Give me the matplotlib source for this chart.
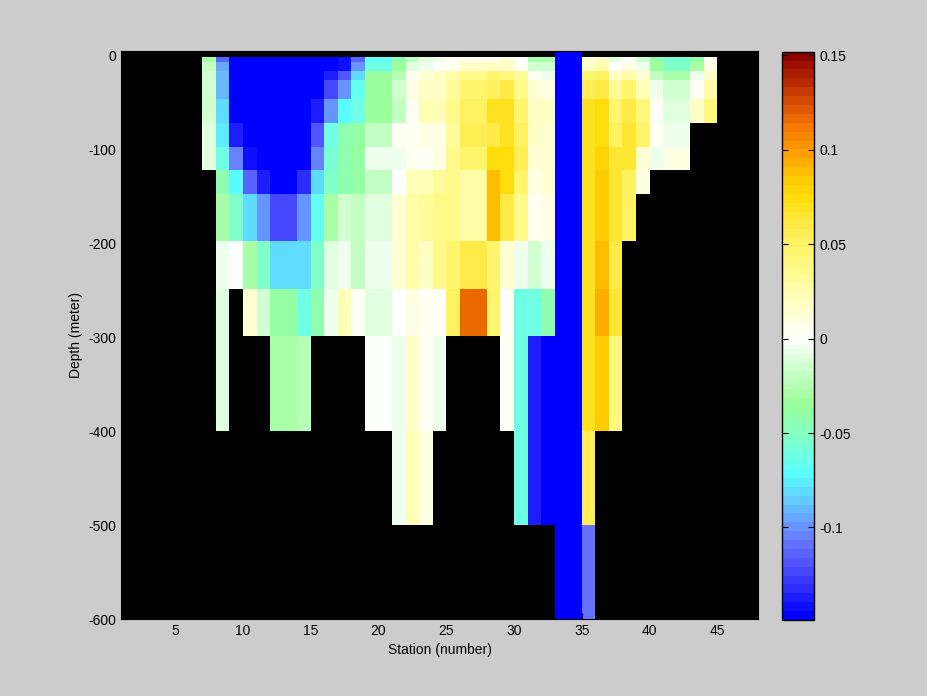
import numpy as np
import matplotlib
matplotlib.use("Agg")
import matplotlib.pyplot as plt
from matplotlib.colors import LinearSegmentedColormap

n = np.nan

# cell edges: stations 7..45 (columns 7..44), depth layers (m)
station_edges = np.arange(7, 46)
depth_edges = [5, -1.5, -7, -16.5, -26, -46, -72, -97, -122, -147, -197, -248, -299, -400, -500, -600]

# anomaly per station, top layer first
anomaly = [
    [n, -0.030, -0.021, -0.015, -0.015, -0.015, -0.010, -0.010, n, n, n, n, n, n, n],                       # 7
    [n, -0.116, -0.096, -0.090, -0.088, -0.080, -0.075, -0.062, -0.045, -0.028, -0.006, -0.010, -0.010, n, n],  # 8
    [n, -0.16, -0.16, -0.16, -0.16, -0.16, -0.136, -0.104, -0.072, -0.052, -0.003, n, n, n, n],           # 9
    [n, -0.16, -0.16, -0.16, -0.16, -0.16, -0.16, -0.141, -0.116, -0.082, -0.028, 0.012, n, n, n],         # 10
    [n, -0.16, -0.16, -0.16, -0.16, -0.16, -0.16, -0.16, -0.137, -0.100, -0.052, -0.013, n, n, n],         # 11
    [n, -0.16, -0.16, -0.16, -0.16, -0.16, -0.16, -0.16, -0.16, -0.125, -0.081, -0.040, -0.028, n, n],     # 12
    [n, -0.16, -0.16, -0.16, -0.16, -0.16, -0.16, -0.16, -0.16, -0.125, -0.081, -0.040, -0.028, n, n],     # 13
    [n, -0.16, -0.16, -0.16, -0.16, -0.16, -0.16, -0.16, -0.132, -0.100, -0.081, -0.064, -0.026, n, n],    # 14
    [n, -0.16, -0.16, -0.16, -0.16, -0.137, -0.119, -0.104, -0.082, -0.068, -0.052, -0.045, n, n, n],      # 15
    [n, -0.16, -0.16, -0.135, -0.123, -0.100, -0.064, -0.057, -0.052, -0.028, -0.010, -0.006, n, n, n],    # 16
    [n, -0.141, -0.141, -0.119, -0.100, -0.072, -0.045, -0.045, -0.045, -0.013, -0.006, 0.024, n, n, n],   # 17
    [n, -0.112, -0.100, -0.082, -0.069, -0.060, -0.040, -0.040, -0.040, -0.021, -0.019, 0.004, n, n, n],   # 18
    [n, -0.067, -0.060, -0.035, -0.035, -0.035, -0.019, -0.006, -0.019, -0.011, -0.006, -0.010, -0.003, n, n],  # 19
    [n, -0.067, -0.060, -0.035, -0.035, -0.035, -0.019, -0.006, -0.019, -0.011, -0.006, -0.010, -0.003, n, n],  # 20
    [n, -0.045, -0.035, -0.026, -0.015, -0.019, 0.004, -0.007, -0.003, 0.012, 0.012, -0.003, -0.006, -0.006, n],  # 21
    [n, -0.021, -0.011, 0.006, 0.010, 0.002, 0.006, 0.002, 0.024, 0.028, 0.028, 0.010, 0.020, 0.024, n],   # 22
    [n, -0.010, -0.006, 0.012, 0.016, 0.024, 0.010, 0.006, 0.024, 0.032, 0.016, 0.006, 0.004, 0.008, n],   # 23
    [n, -0.004, -0.003, 0.018, 0.020, 0.024, 0.008, 0.008, 0.032, 0.037, 0.037, 0.002, -0.007, n, n],      # 24
    [n, 0.004, 0.006, 0.028, 0.032, 0.037, 0.032, 0.037, 0.037, 0.037, 0.045, 0.050, n, n, n],             # 25
    [n, 0.006, 0.016, 0.037, 0.045, 0.050, 0.055, 0.045, 0.028, 0.028, 0.060, 0.116, n, n, n],             # 26
    [n, 0.006, 0.016, 0.037, 0.045, 0.050, 0.055, 0.045, 0.028, 0.028, 0.060, 0.116, n, n, n],             # 27
    [n, 0.004, 0.016, 0.045, 0.050, 0.069, 0.060, 0.075, 0.087, 0.087, 0.045, 0.045, n, n, n],             # 28
    [n, 0.012, 0.018, 0.041, 0.060, 0.069, 0.069, 0.074, 0.075, 0.060, 0.014, -0.003, 0.002, n, n],        # 29
    [n, -0.003, 0.006, 0.032, 0.037, 0.045, 0.050, 0.055, 0.045, 0.037, -0.006, -0.062, -0.060, -0.062, n],  # 30
    [n, -0.030, -0.017, 0.004, 0.012, 0.020, 0.016, 0.012, 0.008, 0.002, -0.017, -0.060, -0.137, -0.137, n],  # 31
    [n, -0.030, -0.017, -0.004, 0.008, 0.020, 0.012, 0.014, 0.012, 0.010, -0.006, -0.045, -0.16, -0.16, n],  # 32
    [-0.16] * 15,                                                                                          # 33
    [-0.16] * 15,                                                                                          # 34
    [n, 0.012, 0.020, 0.045, 0.055, 0.069, 0.069, 0.069, 0.069, 0.072, 0.069, 0.072, 0.072, 0.055, -0.108],  # 35
    [n, 0.020, 0.028, 0.050, 0.060, 0.074, 0.075, 0.078, 0.082, 0.082, 0.088, 0.092, 0.085, n, n],         # 36
    [n, -0.010, 0.000, 0.020, 0.032, 0.045, 0.050, 0.065, 0.065, 0.065, 0.060, 0.065, 0.041, n, n],        # 37
    [n, -0.003, 0.010, 0.028, 0.045, 0.060, 0.065, 0.065, 0.050, 0.050, n, n, n, n, n],                    # 38
    [n, -0.014, -0.007, 0.012, 0.024, 0.041, 0.045, 0.012, 0.008, n, n, n, n, n, n],                       # 39
    [n, -0.040, -0.035, -0.019, -0.007, 0.002, 0.004, -0.004, n, n, n, n, n, n, n],                        # 40
    [n, -0.055, -0.052, -0.028, -0.017, -0.008, -0.004, 0.008, n, n, n, n, n, n, n],                       # 41
    [n, -0.055, -0.052, -0.028, -0.017, -0.008, -0.004, 0.008, n, n, n, n, n, n, n],                       # 42
    [n, -0.038, -0.028, -0.007, 0.002, 0.020, n, n, n, n, n, n, n, n, n],                                  # 43
    [n, 0.002, 0.008, 0.016, 0.028, 0.041, n, n, n, n, n, n, n, n, n],                                     # 44
]

xticks = [5, 10, 15, 20, 25, 30, 35, 40, 45]
yticks = [0, -100, -200, -300, -400, -500, -600]
cbar_ticks = [-0.1, -0.05, 0, 0.05, 0.1, 0.15]
cbar_labels = ['-0.1', '-0.05', '0', '0.05', '0.1', '0.15']

vmin, vmax = -0.149, 0.152

# colormap (64 levels, blue - cyan - green - white - yellow - orange - dark red)
anchors = [
    (vmin, (0.0, 0.0, 1.0)),
    (-0.128, (0.25, 0.25, 1.0)),
    (-0.11, (0.4, 0.45, 1.0)),
    (-0.095, (0.4, 0.68, 1.0)),
    (-0.072, (0.35, 1.0, 1.0)),
    (-0.055, (0.5, 1.0, 0.8)),
    (-0.035, (0.6, 1.0, 0.6)),
    (-0.015, (0.82, 1.0, 0.82)),
    (0.0, (1.0, 1.0, 1.0)),
    (0.02, (1.0, 1.0, 0.75)),
    (0.045, (1.0, 0.97, 0.45)),
    (0.06, (1.0, 0.92, 0.3)),
    (0.075, (1.0, 0.87, 0.05)),
    (0.085, (1.0, 0.8, 0.0)),
    (0.1, (1.0, 0.62, 0.0)),
    (0.115, (0.96, 0.46, 0.0)),
    (0.135, (0.75, 0.2, 0.0)),
    (vmax, (0.55, 0.0, 0.0)),
]
cmap = LinearSegmentedColormap.from_list(
    'anom', [((v - vmin) / (vmax - vmin), c) for v, c in anchors], N=64)

plt.rcParams['font.family'] = ['Liberation Sans', 'DejaVu Sans']
plt.rcParams['axes.unicode_minus'] = False

bg = (0.8, 0.8, 0.8)
fig = plt.figure(figsize=(9.28, 6.96), dpi=100, facecolor=bg)

ax = fig.add_axes([0.1304, 0.1106, 0.6864, 0.8161])
ax.set_facecolor('black')
Z = np.ma.masked_invalid(np.array(anomaly, dtype=float).T)
mesh = ax.pcolormesh(station_edges, depth_edges, Z, cmap=cmap, vmin=vmin, vmax=vmax)

ax.set_xlim(1, 48)
ax.set_ylim(-600, 5)
ax.set_xticks(xticks)
ax.set_yticks(yticks)
ax.tick_params(direction='in', length=4, labelsize=10, colors='black')
ax.set_xlabel('Station (number)', fontsize=10)
ax.set_ylabel('Depth (meter)', fontsize=10)

cax = fig.add_axes([0.8424, 0.1092, 0.0351, 0.8165])
cb = fig.colorbar(mesh, cax=cax)
cb.set_ticks(cbar_ticks)
cb.set_ticklabels(cbar_labels)
cax.tick_params(direction='in', length=4, left=True, right=True, labelsize=10)
cb.outline.set_linewidth(1.0)

fig.savefig('out.png', dpi=100, facecolor=bg)
